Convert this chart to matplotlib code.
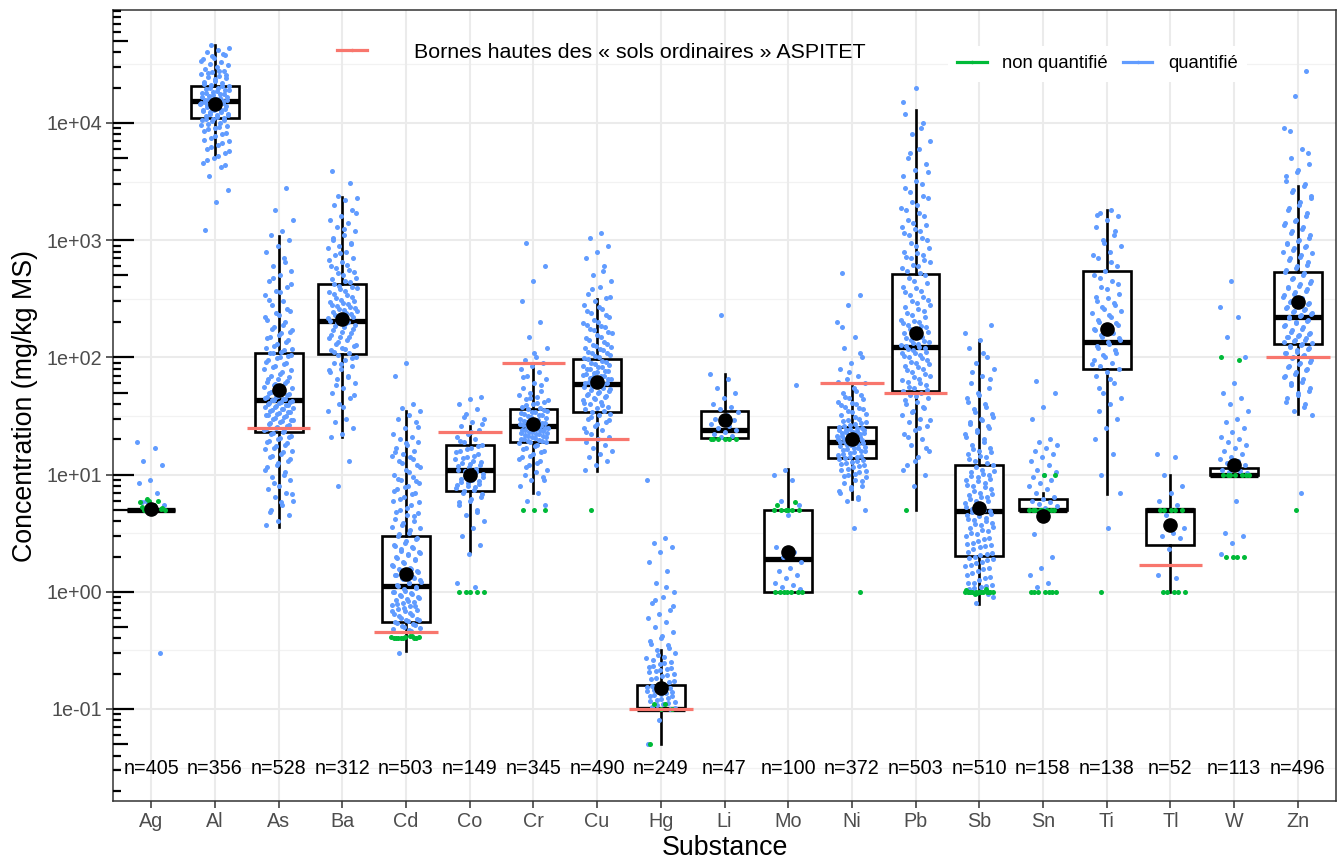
import numpy as np
import matplotlib
matplotlib.use("Agg")
import matplotlib.pyplot as plt
from matplotlib.lines import Line2D

plt.rcParams['font.family'] = ['Liberation Sans', 'DejaVu Sans']

# Data
substances = ['Ag', 'Al', 'As', 'Ba', 'Cd', 'Co', 'Cr', 'Cu', 'Hg', 'Li',
              'Mo', 'Ni', 'Pb', 'Sb', 'Sn', 'Ti', 'Tl', 'W', 'Zn']
n_counts = [405, 356, 528, 312, 503, 149, 345, 490, 249, 47,
            100, 372, 503, 510, 158, 138, 52, 113, 496]

# box statistics (mg/kg MS)
q1 = [5, 11000, 23, 107, 0.556, 7.2, 19, 34, 0.1, 20.5,
      1.0, 13.8, 52, 2.04, 5.0, 80, 2.5, 10, 131]
med = [5, 15400, 43, 206, 1.11, 10.9, 26, 59, 0.1, 24,
       1.89, 19, 123, 4.86, 5.0, 136, 5.0, 10, 223]
q3 = [5, 20700, 109, 419, 2.97, 17.9, 36, 97, 0.16, 35,
      5.0, 25.5, 510, 12, 6.15, 551, 5.1, 11.3, 540]
whis_lo = [5, 5100, 3.6, 21, 0.31, 2.2, 6.9, 10.7, 0.05, 20.5,
           1.0, 6.2, 5, 0.79, 5.0, 6.8, 1.0, 10, 33]
whis_hi = [5, 46600, 1080, 2320, 35, 26, 90, 318, 0.32, 72,
           11.1, 57, 12900, 142, 7.0, 1800, 10, 11.3, 2900]
means = [5.1, 14500, 53, 214, 1.43, 10, 27, 62, 0.15, 29,
         2.17, 20, 162, 5.2, 4.4, 176, 3.7, 12, 299]

# ASPITET upper bounds for "sols ordinaires"
aspitet_subst = ['As', 'Cd', 'Co', 'Cr', 'Cu', 'Hg', 'Ni', 'Pb', 'Tl', 'Zn']
aspitet_val = [25, 0.45, 23, 90, 20, 0.1, 60, 50, 1.7, 100]

ag_q = [19, 17, 13, 12, 9, 8.5, 7, 6, 5.5, 5.2, 5.8, 0.3]
ag_nq = [5, 5, 5.2, 5.5, 5.8, 6, 6.2, 5, 5.5, 5.3, 5.1, 5.9]
al_q = [46000, 44000, 42000, 40000, 38000, 36000, 35000, 33000, 32000, 31000,
        30000, 29000, 28000, 27000, 26000, 25000, 24500, 24000, 23000, 22500,
        22000, 21000, 20500, 20000, 19500, 19000, 18500, 18000, 17500, 17000,
        16500, 16000, 15800, 15500, 15000, 14800, 14500, 14200, 14000, 13500,
        13000, 12800, 12500, 12000, 11800, 11500, 11000, 10800, 10500, 10000,
        9800, 9500, 9000, 8500, 8000, 7500, 7000, 6500, 6000, 5500, 5000,
        4600, 4200, 3500, 2700, 2100, 1230,
        39000, 37000, 34000, 27500, 26500, 25500, 23500, 21500, 20800, 19800,
        19200, 18800, 18200, 17800, 17200, 16800, 16200, 15900, 15700, 15300,
        15100, 14900, 14700, 14400, 14100, 13800, 13200, 12900, 12600, 12300,
        11900, 11600, 11300, 10900, 10600, 10300, 9700, 9300, 8800, 8200,
        7800, 7200, 6800, 6200, 5800, 5200, 4800, 4400]
al_nq = []
as_q = [2800, 1800, 1500, 1200, 1100, 1000, 900, 800, 700, 600, 550, 500, 450,
        400, 370, 340, 300, 280, 250, 230, 210, 200, 180, 170, 160, 150, 140,
        130, 120, 115, 110, 105, 100, 95, 90, 85, 80, 75, 70, 68, 65, 62, 60,
        58, 55, 52, 50, 48, 46, 45, 44, 43, 42, 41, 40, 39, 38, 37, 36, 35, 34,
        33, 32, 31, 30, 29, 28, 27, 26, 25, 24, 23, 22, 21, 20, 19, 18, 17, 16,
        15, 14, 13, 12, 11, 10, 9.5, 9, 8, 7.5, 7, 6.5, 6, 5.5, 5, 4.5, 4, 3.7,
        650, 480, 420, 360, 310, 260, 240, 220, 190, 175, 165, 155, 145, 135,
        125, 118, 112, 108, 102, 98, 92, 88, 82, 78, 72, 66, 63, 59, 56, 53, 51,
        49, 47, 45.5, 44.5, 43.5, 42.5, 41.5, 40.5, 39.5, 38.5, 37.5, 36.5,
        35.5, 34.5, 33.5, 32.5, 31.5, 30.5, 29.5, 28.5, 27.5, 26.5, 25.5, 24.5,
        23.5, 22.5, 21.5, 20.5, 19.5, 18.5, 17.5, 16.5, 15.5, 14.5, 13.5, 12.5,
        11.5, 10.5, 8.5, 6.8, 5.8, 4.8]
as_nq = []
ba_q = [3900, 3100, 2400, 2300, 2200, 2000, 1800, 1600, 1500, 1400, 1300, 1200,
        1100, 1000, 950, 900, 850, 800, 750, 700, 650, 600, 560, 520, 480, 450,
        420, 400, 380, 360, 340, 320, 300, 290, 280, 270, 260, 250, 240, 230,
        220, 210, 205, 200, 195, 190, 180, 170, 160, 150, 145, 140, 130, 125,
        120, 115, 110, 105, 100, 95, 90, 85, 80, 75, 70, 65, 60, 55, 50, 45, 40,
        35, 30, 28, 25, 22, 21, 13, 8,
        1700, 1250, 1050, 920, 780, 680, 620, 580, 540, 500, 470, 440, 410,
        390, 370, 350, 330, 310, 295, 285, 275, 265, 255, 245, 235, 225, 215,
        198, 185, 175, 165, 155, 148, 135, 128, 118, 112, 98, 88, 78, 68, 58,
        48, 38]
ba_nq = []
cd_q = [90, 70, 40, 37, 35, 32, 30, 28, 25, 22, 21, 20, 19, 18, 17, 16, 15,
        14.5, 14, 13, 12, 11, 10, 9.5, 9, 8.5, 8, 7.5, 7, 6.5, 6, 5.5, 5, 4.7,
        4.5, 4.2, 4, 3.7, 3.5, 3.2, 3, 2.8, 2.6, 2.5, 2.4, 2.3, 2.2, 2.1, 2,
        1.9, 1.8, 1.7, 1.6, 1.55, 1.5, 1.45, 1.4, 1.35, 1.3, 1.25, 1.2, 1.15,
        1.1, 1.05, 1.0, 0.97, 0.94, 0.9, 0.87, 0.85, 0.82, 0.8, 0.77, 0.75,
        0.72, 0.7, 0.68, 0.65, 0.63, 0.6, 0.58, 0.56, 0.54, 0.52, 0.5, 0.48,
        0.46, 0.3,
        25.5, 18.5, 15.5, 13.5, 12.5, 11.5, 10.5, 9.2, 8.8, 7.8, 7.2, 6.8, 6.2,
        5.8, 5.2, 4.8, 4.4, 3.9, 3.6, 3.4, 3.1, 2.9, 2.7, 2.45, 2.35, 2.25,
        2.15, 2.05, 1.95, 1.85, 1.75, 1.65, 1.58, 1.52, 1.48, 1.42, 1.38, 1.32,
        1.28, 1.22, 1.18, 1.12, 1.08, 1.02, 0.99, 0.96, 0.92, 0.88, 0.84, 0.79,
        0.76, 0.73, 0.69, 0.66, 0.62, 0.59, 0.57, 0.55, 0.53, 0.51, 0.49, 0.47]
cd_nq = [0.4, 0.4, 0.4, 0.41, 0.42, 0.4, 0.4, 0.41, 0.4, 0.42, 0.4, 0.41]
co_q = [46, 44, 40, 36, 33, 30, 28, 26, 24, 22, 21, 20, 19, 18, 17, 16, 15, 14,
        13.5, 13, 12.5, 12, 11.5, 11, 10.5, 10, 9.5, 9, 8.7, 8.3, 8, 7.7, 7.4,
        7, 6.5, 6, 5.5, 5, 4.5, 4, 3.5, 3, 2.5, 2.1, 1.2, 1.1,
        31, 27, 23, 19.5, 17.5, 16.5, 15.5, 14.5, 13.8, 12.8, 12.2, 11.8, 11.2,
        10.8, 10.2, 9.8, 9.2, 8.8, 8.5, 8.1, 7.8, 7.2, 6.8, 6.2, 5.8, 4.8]
co_nq = [1, 1, 1, 1, 1]
cr_q = [950, 600, 450, 300, 200, 150, 120, 100, 95, 90, 85, 80, 75, 70, 65, 60,
        55, 52, 50, 48, 46, 44, 42, 40, 38, 37, 36, 35, 34, 33, 32, 31, 30, 29,
        28, 27.5, 27, 26.5, 26, 25.5, 25, 24.5, 24, 23.5, 23, 22.5, 22, 21.5,
        21, 20.5, 20, 19.5, 19, 18.5, 18, 17, 16, 15, 14, 13, 12, 11, 10.5, 10,
        9.5, 9, 8, 7, 6, 5.5,
        110, 68, 58, 45, 43, 41, 39, 35.5, 34.5, 33.5, 32.5, 31.5, 30.5, 29.5,
        28.5, 27.8, 27.2, 26.8, 26.2, 25.8, 25.2, 24.8, 24.2, 23.8, 23.2, 22.8,
        22.2, 21.8, 21.2, 20.8, 20.2, 19.8, 19.2, 18.8, 17.5, 16.5, 15.5, 14.5,
        13.5, 12.5, 11.5, 9]
cr_nq = [5, 5, 5]
cu_q = [1150, 1050, 900, 800, 700, 600, 500, 450, 400, 350, 320, 300, 280, 260,
        240, 220, 200, 190, 180, 170, 160, 150, 140, 130, 125, 120, 115, 110,
        105, 100, 96, 92, 88, 85, 82, 80, 77, 75, 72, 70, 68, 66, 64, 62, 60,
        58, 56, 55, 53, 52, 50, 48, 46, 45, 43, 42, 40, 38, 37, 36, 35, 34, 33,
        32, 30, 28, 26, 25, 24, 22, 21, 20, 19, 18, 17, 16, 15, 14, 13, 12, 11,
        550, 380, 330, 270, 250, 230, 210, 195, 185, 175, 165, 155, 145, 135,
        128, 122, 118, 112, 108, 102, 98, 94, 90, 86, 83, 79, 76, 73, 71, 69,
        67, 65, 63, 61, 59, 57, 54, 51, 49, 47, 44, 41, 39, 31, 29, 27, 23]
cu_nq = [5]
hg_q = [9, 2.9, 2.6, 2.4, 2.2, 1.8, 1.5, 1.2, 1.0, 0.9, 0.8, 0.7, 0.65, 0.6,
        0.55, 0.5, 0.45, 0.4, 0.38, 0.35, 0.32, 0.3, 0.28, 0.26, 0.25, 0.24,
        0.23, 0.22, 0.21, 0.2, 0.19, 0.18, 0.17, 0.16, 0.155, 0.15, 0.145, 0.14,
        0.135, 0.13, 0.125, 0.12, 0.115, 0.11, 0.105, 0.1, 0.08, 0.05,
        1.1, 0.85, 0.75, 0.42, 0.36, 0.33, 0.29, 0.27, 0.245, 0.235, 0.225,
        0.215, 0.205, 0.195, 0.185, 0.175, 0.165, 0.158, 0.152, 0.148, 0.142,
        0.138, 0.132, 0.128, 0.122, 0.118, 0.112, 0.108, 0.102]
hg_nq = [0.11, 0.11, 0.1, 0.1, 0.05]
li_q = [230, 72, 65, 55, 50, 45, 40, 38, 36, 34, 32, 30, 29, 28, 27, 26, 25, 24,
        23, 22, 21.5, 21]
li_nq = [20, 20, 20, 20, 20, 20]
mo_q = [58, 11, 10, 9, 6, 5.5, 4.5, 2.4, 2.2, 2, 1.8, 1.6, 1.5, 1.4, 1.3, 1.2,
        1.15, 1.1, 1.05]
mo_nq = [5, 5, 5, 5, 5, 5, 5.5, 5.8, 1, 1, 1, 1, 1, 1, 1]
ni_q = [520, 340, 280, 200, 150, 120, 100, 90, 80, 70, 65, 60, 55, 50, 48, 45,
        42, 40, 38, 36, 34, 32, 30, 29, 28, 27, 26, 25, 24.5, 24, 23.5, 23,
        22.5, 22, 21.5, 21, 20.5, 20, 19.5, 19, 18.5, 18, 17.5, 17, 16.5, 16,
        15.5, 15, 14.5, 14, 13.5, 13, 12.5, 12, 11.5, 11, 10.5, 10, 9.5, 9, 8.5,
        8, 7.5, 7, 6.5, 6, 5, 3.5,
        180, 110, 75, 62, 52, 46, 44, 41, 39, 37, 35, 33, 31, 28.5, 27.5, 26.5,
        25.5, 24.8, 24.2, 23.8, 23.2, 22.8, 22.2, 21.8, 21.2, 20.8, 20.2, 19.8,
        19.2, 18.8, 18.2, 17.8, 17.2, 16.8, 16.2, 15.8, 15.2, 14.8, 14.2, 13.8,
        13.2, 12.8, 12.2, 11.8, 11.2, 10.8, 10.2, 9.8, 8.8, 7.8, 7.2, 6.2]
ni_nq = [1]
pb_q = [20000, 12000, 10000, 8000, 7000, 6000, 5000, 4500, 4000, 3500, 3000,
        2600, 2300, 2000, 1800, 1600, 1400, 1300, 1200, 1100, 1000, 900, 800,
        750, 700, 650, 600, 550, 500, 450, 400, 370, 340, 310, 290, 270, 250,
        230, 210, 200, 190, 180, 170, 160, 150, 140, 135, 130, 125, 120, 115,
        110, 105, 100, 95, 90, 85, 80, 75, 70, 66, 62, 58, 55, 52, 50, 48, 45,
        42, 40, 37, 35, 32, 30, 28, 26, 24, 22, 20, 18, 16, 14, 12, 10, 8,
        15000, 9000, 5500, 3800, 3200, 2800, 2400, 2100, 1900, 1700, 1500,
        1350, 1250, 1150, 1050, 950, 850, 780, 720, 680, 620, 580, 520, 480,
        430, 390, 360, 330, 300, 280, 260, 240, 220, 205, 195, 185, 175, 165,
        155, 145, 138, 132, 128, 122, 118, 112, 108, 102, 98, 92, 88, 82, 78,
        72, 68, 64, 60, 56, 53, 47, 43, 38, 34, 29, 25, 21, 17, 13, 11]
pb_nq = [5]
sb_q = [190, 140, 120, 100, 90, 80, 70, 60, 55, 50, 45, 40, 36, 33, 30, 28, 26,
        24, 22, 20, 18, 17, 16, 15, 14, 13, 12, 11, 10.5, 10, 9.5, 9, 8.5, 8,
        7.5, 7, 6.7, 6.4, 6, 5.7, 5.4, 5.1, 4.9, 4.7, 4.5, 4.3, 4.1, 3.9, 3.7,
        3.5, 3.3, 3.1, 3, 2.8, 2.6, 2.5, 2.4, 2.2, 2.1, 2, 1.9, 1.8, 1.7, 1.6,
        1.5, 1.4, 1.3, 1.2, 1.15, 1.1, 1.05, 0.95, 0.8,
        160, 110, 75, 65, 48, 42, 38, 34, 31, 29, 27, 25, 23, 21, 19, 16.5,
        15.5, 14.5, 13.5, 12.5, 11.5, 10.8, 10.2, 9.8, 9.2, 8.8, 8.2, 7.8, 7.2,
        6.8, 6.5, 6.2, 5.9, 5.6, 5.3, 5.0, 4.8, 4.6, 4.4, 4.2, 4.0, 3.8, 3.6,
        3.4, 3.2, 2.9, 2.7, 2.55, 2.45, 2.3, 2.15, 2.05, 1.95, 1.85, 1.75, 1.65,
        1.55, 1.45, 1.35, 1.25, 1.18, 1.12, 1.08, 0.9]
sb_nq = [1, 1, 1, 1, 1, 1, 1, 1, 1, 1, 1.05, 0.95, 1, 1, 1, 1, 0.97, 1.03]
sn_q = [63, 50, 38, 30, 20, 19, 18, 17, 16, 15, 14, 13, 12, 11, 10.5, 10, 9.5,
        9, 8.5, 8, 7.5, 7, 6.5, 6.2, 6, 5.8, 5.6, 5.4, 5.2, 3.1, 2, 1.6, 1.4,
        1.2, 1.1]
sn_nq = [10, 10, 5, 5, 5, 5, 5, 5, 5, 5, 1, 1, 1, 1, 1, 1, 1]
ti_q = [1800, 1700, 1600, 1500, 1300, 1100, 1000, 900, 800, 700, 600, 550, 500,
        450, 400, 350, 320, 300, 280, 260, 240, 220, 200, 190, 180, 170, 160,
        150, 140, 130, 120, 110, 100, 95, 90, 85, 80, 75, 70, 60, 50, 45, 40,
        35, 30, 25, 20, 15, 10, 7, 3.5,
        1650, 1200, 950, 750, 650, 480, 420, 380, 330, 290, 270, 250, 230, 210,
        195, 185, 175, 165, 155, 145, 135, 125, 115, 105, 88, 65, 55]
ti_nq = [1]
tl_q = [15, 14, 10, 8, 7, 6, 5.5, 4.5, 3.5, 3.2, 3.0, 2.9, 2.3, 1.4, 1.3]
tl_nq = [5, 5, 5, 5, 5, 1, 1, 1, 1, 1]
w_q = [450, 270, 220, 150, 100, 60, 50, 45, 40, 35, 30, 28, 25, 23, 21, 20, 19,
       18, 17, 16, 15, 14, 13.5, 13, 12.5, 12, 11.5, 11, 10.8, 10.5, 10.3, 6,
       3.2, 3, 2.6, 2.1]
w_nq = [100, 95, 10, 10, 10, 10, 10, 10, 10, 2, 2, 2, 2]
zn_q = [28000, 17000, 9000, 6000, 5000, 4500, 4000, 3500, 3000, 2700, 2400,
        2100, 1900, 1700, 1500, 1400, 1300, 1200, 1100, 1000, 950, 900, 850,
        800, 750, 700, 650, 600, 560, 520, 480, 450, 420, 400, 380, 360, 340,
        320, 300, 290, 280, 270, 260, 250, 240, 230, 220, 210, 200, 190, 180,
        170, 160, 155, 150, 145, 140, 135, 130, 125, 120, 115, 110, 105, 100,
        95, 90, 85, 80, 75, 70, 65, 60, 55, 50, 45, 40, 35, 32, 7,
        8500, 5500, 3800, 3200, 2900, 2600, 2300, 2000, 1800, 1600, 1450, 1350,
        1250, 1150, 1050, 980, 920, 870, 820, 780, 720, 680, 620, 580, 540,
        500, 465, 435, 410, 390, 370, 350, 330, 310, 295, 285, 275, 265, 255,
        245, 235, 225, 215, 205, 195, 185, 175, 165, 158, 152, 148, 142, 138,
        132, 128, 122, 118, 112, 108, 102, 98, 92, 88, 82, 78, 72, 68, 62, 58,
        52, 48, 42, 38]
zn_nq = [5]

quantified = [ag_q, al_q, as_q, ba_q, cd_q, co_q, cr_q, cu_q, hg_q, li_q,
              mo_q, ni_q, pb_q, sb_q, sn_q, ti_q, tl_q, w_q, zn_q]
non_quantified = [ag_nq, al_nq, as_nq, ba_nq, cd_nq, co_nq, cr_nq, cu_nq, hg_nq,
                  li_nq, mo_nq, ni_nq, pb_nq, sb_nq, sn_nq, ti_nq, tl_nq, w_nq,
                  zn_nq]

c_red = '#F8766D'
c_green = '#00BA38'
c_blue = '#619CFF'
grey30 = '#4D4D4D'

fig = plt.figure(figsize=(13.39, 8.6), dpi=100)
ax = fig.add_axes([113 / 1339, 1 - 801 / 860, 1223 / 1339, 791 / 860])
ax.set_yscale('log')

x = np.arange(len(substances))

# grid (ggplot theme_bw style)
for k in range(-2, 6):
    ax.axhline(10.0 ** k, color='#EBEBEB', lw=1.5, zorder=0)
    ax.axhline(10.0 ** (k + 0.5), color='#F2F2F2', lw=0.9, zorder=0)
for xi in x:
    ax.axvline(xi, color='#EBEBEB', lw=1.5, zorder=0)

# boxplots
stats = []
for i in range(len(substances)):
    stats.append(dict(med=med[i], q1=q1[i], q3=q3[i],
                      whislo=whis_lo[i], whishi=whis_hi[i], fliers=[]))
ax.bxp(stats, positions=x, widths=0.75, showcaps=False, patch_artist=True,
       boxprops=dict(facecolor='white', edgecolor='black', linewidth=1.9),
       medianprops=dict(color='black', linewidth=3.8),
       whiskerprops=dict(color='black', linewidth=1.9),
       manage_ticks=False, zorder=2)


def jitter(n, seed):
    # deterministic spread of the points around the category
    return ((np.arange(n) * 0.618034 + seed * 0.377) % 1.0 - 0.5) * 0.46


for i in range(len(substances)):
    vq = quantified[i]
    vn = non_quantified[i]
    if vq:
        ax.scatter(x[i] + jitter(len(vq), i), vq, s=13, color=c_blue,
                   linewidths=0, zorder=3)
    if vn:
        ax.scatter(x[i] + jitter(len(vn), i + 7), vn, s=13, color=c_green,
                   linewidths=0, zorder=3.2)

# ASPITET bounds
for s, v in zip(aspitet_subst, aspitet_val):
    xi = substances.index(s)
    ax.plot([xi - 0.5, xi + 0.5], [v, v], color=c_red, lw=2.3,
            solid_capstyle='butt', zorder=4)

# means
ax.plot(x, means, 'o', color='black', markersize=9.5, zorder=5)

# sample size labels
for xi, n in zip(x, n_counts):
    ax.text(xi, 0.031, 'n=%d' % n, ha='center', va='center', fontsize=14.2,
            color='black', zorder=6)

ax.set_xlim(-0.6, 18.6)
ax.set_ylim(10 ** -1.785, 10 ** 4.964)
ax.set_xticks(x)
ax.set_xticklabels(substances)
ax.set_yticks([1e-1, 1e0, 1e1, 1e2, 1e3, 1e4])
ax.set_yticklabels(['1e-01', '1e+00', '1e+01', '1e+02', '1e+03', '1e+04'])
ax.yaxis.set_minor_locator(matplotlib.ticker.NullLocator())
ax.tick_params(axis='both', length=5, width=1.1, color='#333333',
               labelsize=14.2, labelcolor=grey30, pad=3)

# log ticks inside the left border
tr = ax.get_yaxis_transform()
for k in range(-2, 5):
    for m in range(1, 10):
        v = m * 10.0 ** k
        if v < 10 ** -1.785 or v > 10 ** 4.964:
            continue
        L = 0.0175 if m == 1 else (0.0122 if m == 5 else 0.0066)
        ax.plot([0, L], [v, v], transform=tr, color='black', lw=1.6,
                solid_capstyle='butt', zorder=6, clip_on=False)

for sp in ax.spines.values():
    sp.set_color('#333333')
    sp.set_linewidth(1.1)

ax.set_xlabel('Substance', fontsize=19.3, labelpad=3)
ax.set_ylabel('Concentration (mg/kg MS)', fontsize=19.3, labelpad=6)

# legends
h_red = Line2D([], [], color=c_red, lw=2.3, marker='.', markersize=3)
leg1 = fig.legend([h_red], ['Bornes hautes des « sols ordinaires » ASPITET'],
                  loc='center left', bbox_to_anchor=(337 / 1339, 1 - 52 / 860),
                  frameon=False, fontsize=15.4, handlelength=1.4,
                  handletextpad=2.2, borderpad=0, borderaxespad=0)
h_g = Line2D([], [], color=c_green, lw=2.3, marker='.', markersize=3)
h_b = Line2D([], [], color=c_blue, lw=2.3, marker='.', markersize=3)
leg2 = fig.legend([h_g, h_b], ['non quantifié', 'quantifié'], ncol=2,
                  loc='center left', bbox_to_anchor=(948 / 1339, 1 - 64 / 860),
                  frameon=True, fancybox=False, facecolor='white',
                  edgecolor='none', framealpha=1, fontsize=13.3,
                  handlelength=1.6, handletextpad=0.85, columnspacing=0.8,
                  borderpad=0.5, borderaxespad=0)

fig.savefig('out.png', dpi=100)
